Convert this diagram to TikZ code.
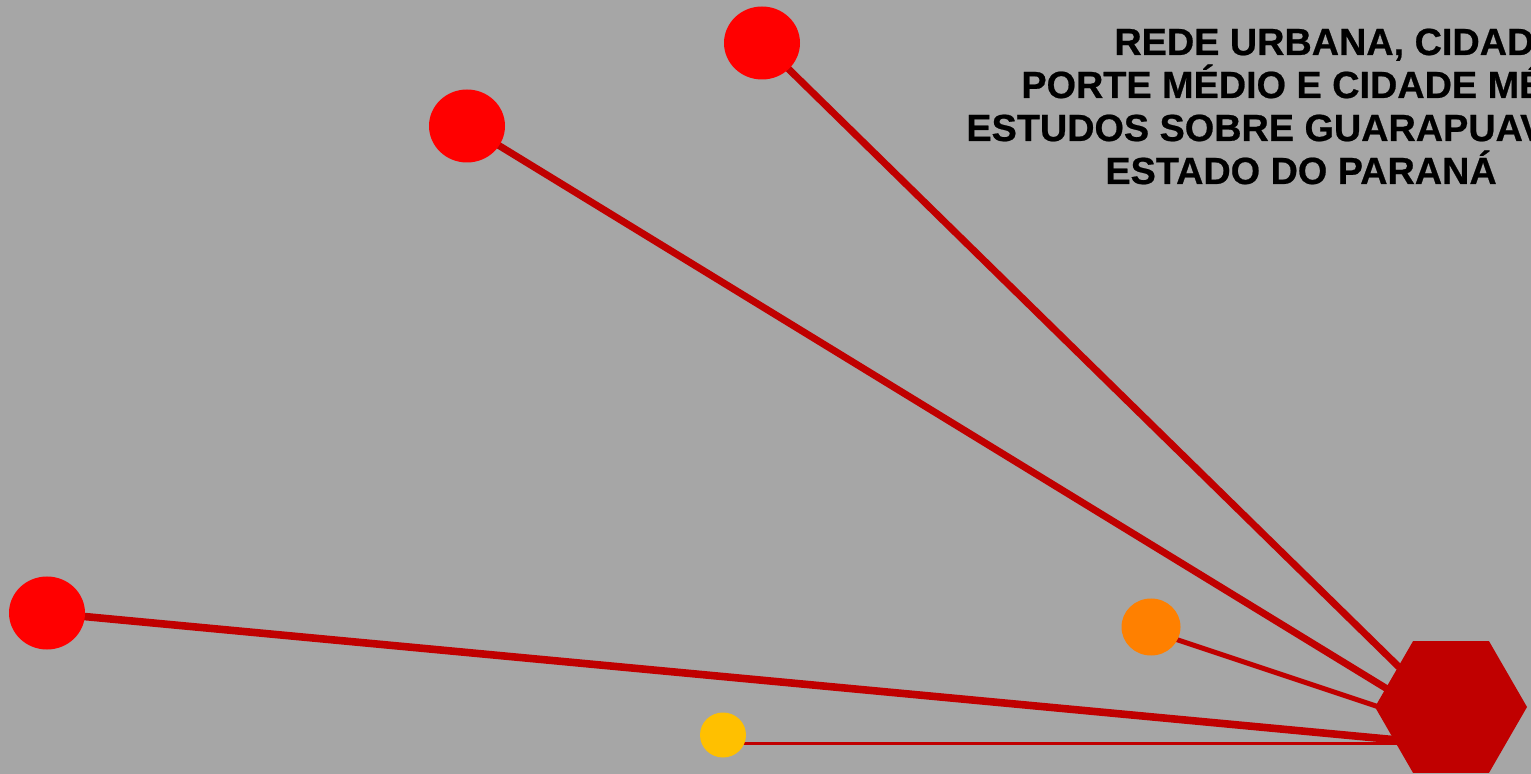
\documentclass[tikz,border=0pt]{standalone}
\usepackage{fontspec}
\setmainfont{Liberation Sans}[BoldFeatures={FakeBold=0.6}]
\usetikzlibrary{shapes.geometric}
\definecolor{bggray}{RGB}{166,166,166}
\definecolor{linkred}{RGB}{192,0,0}
\definecolor{cityred}{RGB}{255,0,0}
\definecolor{cityorange}{RGB}{255,128,0}
\definecolor{cityyellow}{RGB}{255,192,0}
\pgfdeclarelayer{bg}
\pgfdeclarelayer{links}
\pgfsetlayers{bg,links,main}
\begin{document}
\begin{tikzpicture}[x=0.5pt,y=-0.5pt,
    city/.style={ellipse,inner sep=0pt,draw=none},
    link/.style={draw=linkred,line cap=butt},
    title/.style={anchor=base west,inner sep=0pt,font=\bfseries\fontsize{18.9}{22}\selectfont}]
  \useasboundingbox (0,0) rectangle (1531,774);
  \clip (0,0) rectangle (1531,774);
  \begin{pgfonlayer}{bg}
    \fill[bggray] (0,0) rectangle (1531,774);
  \end{pgfonlayer}

  % Cities
  \foreach \i/\x/\y/\w/\h/\c in {1/762/43/76/73/cityred, 2/467/126/76/73/cityred,
      3/1151/627/59/57/cityorange, 4/47/613/76/73/cityred, 5/723/735/46/45/cityyellow}
    \node[city,fill=\c,minimum width=\w*0.5pt,minimum height=\h*0.5pt] (C\i) at (\x,\y) {};

  % Guarapuava
  \node[regular polygon,regular polygon sides=6,minimum size=76pt,inner sep=0pt,fill=linkred] (G) at (1451,707) {};

  % Links
  \begin{pgfonlayer}{links}
    \foreach \i/\ey/\dy/\lw in {1/718/0/3.5, 2/728/0/3.5, 3/731/-2/2.5, 4/745/0/3.8, 5/743/-4/1.5} {
      \coordinate (E\i) at ([yshift=\ey*-0.5pt+707*0.5pt]G.center);
      \draw[link,line width=\lw pt] ([yshift=\dy pt]C\i.center) -- (E\i);
    }
  \end{pgfonlayer}

  % Title
  \node[title] (T1) at (1114,55) {REDE URBANA, CIDAD};
  \node[title] (T2) at (1021,98) {PORTE MÉDIO E CIDADE MÉ};
  \node[title] (T3) at (966,141) {ESTUDOS SOBRE GUARAPUAV};
  \node[title] (T4) at (1105,184) {ESTADO DO PARANÁ};
\end{tikzpicture}
\end{document}
